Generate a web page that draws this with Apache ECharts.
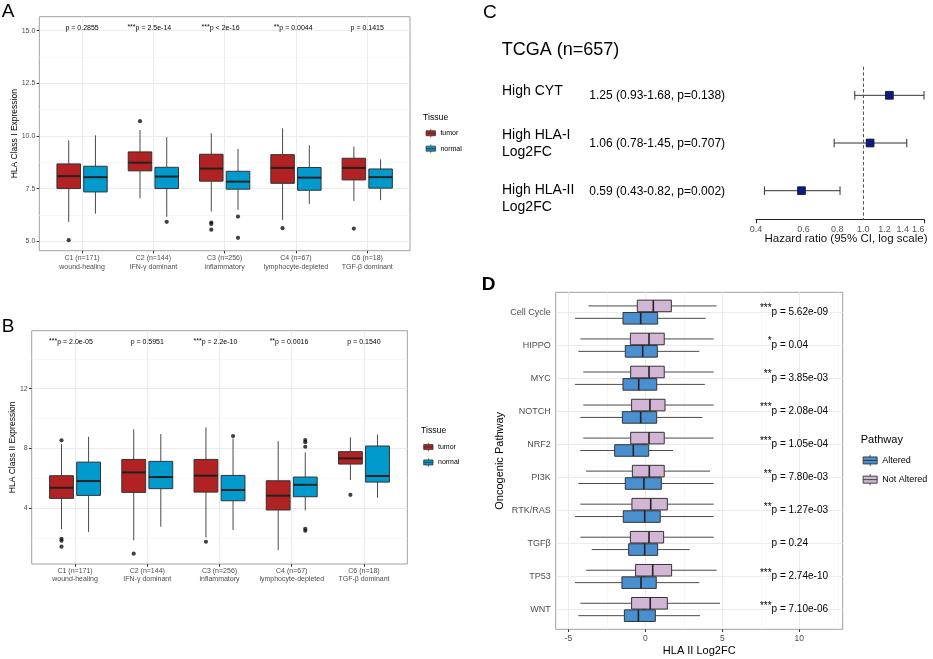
<!DOCTYPE html>
<html><head><meta charset="utf-8">
<script src="https://cdn.jsdelivr.net/npm/echarts@6.0.0/dist/echarts.min.js"></script>
<style>html,body{margin:0;padding:0;background:#fff}#c{width:933px;height:659px}</style>
</head><body><div id="c"></div>
<script>
// ================= DATA =================
// Panels A/B: immune subtypes
const clusters = ['C1 (n=171)', 'C2 (n=144)', 'C3 (n=256)', 'C4 (n=67)', 'C6 (n=18)'];
const subtypes = ['wound-healing', 'IFN-γ dominant', 'inflammatory', 'lymphocyte-depleted', 'TGF-β dominant'];
const tissues = ['tumor', 'normal'];
// box stats: [lower whisker, Q1, median, Q3, upper whisker]
const hla1Tumor  = [[5.92, 7.50, 8.09, 8.67, 9.79], [7.04, 8.34, 8.73, 9.24, 10.28], [6.41, 7.85, 8.45, 9.13, 10.13], [6.01, 7.75, 8.48, 9.11, 10.36], [6.91, 7.91, 8.48, 8.94, 9.49]];
const hla1Normal = [[6.31, 7.34, 8.04, 8.56, 10.03], [6.16, 7.50, 8.07, 8.51, 9.94], [6.49, 7.47, 7.83, 8.32, 9.38], [6.77, 7.42, 8.02, 8.50, 9.56], [6.95, 7.52, 8.04, 8.43, 8.89]];
const hla1TumorOut  = [[1, 5.05], [2, 10.70], [3, 5.89], [3, 5.82], [3, 5.55], [4, 5.62], [5, 5.60]];
const hla1NormalOut = [[2, 5.92], [3, 6.17], [3, 5.16]];
const hla1Stars = ['', '***', '***', '**', ''];
const hla1P = ['p = 0.2855', 'p = 2.5e-14', 'p < 2e-16', 'p = 0.0044', 'p = 0.1415'];
const hla1Ticks = [5, 7.5, 10, 12.5, 15];

const hla2Tumor  = [[2.59, 4.65, 5.36, 6.17, 8.29], [1.83, 5.05, 6.39, 7.26, 9.27], [2.03, 5.07, 6.17, 7.26, 9.41], [1.18, 3.87, 4.83, 5.83, 8.49], [5.88, 6.95, 7.33, 7.78, 8.74]];
const hla2Normal = [[2.39, 4.85, 5.81, 7.08, 8.78], [2.75, 5.30, 6.08, 7.13, 8.96], [2.53, 4.49, 5.21, 6.19, 8.67], [3.84, 4.76, 5.56, 6.08, 7.73], [4.69, 5.74, 6.15, 8.16, 8.92]];
const hla2TumorOut  = [[1, 8.54], [1, 1.94], [1, 1.81], [1, 1.41], [2, 0.94], [3, 1.74], [5, 4.89]];
const hla2NormalOut = [[3, 8.83], [4, 8.56], [4, 8.42], [4, 8.11], [4, 2.61], [4, 2.48]];
const hla2Stars = ['***', '', '***', '**', ''];
const hla2P = ['p = 2.0e-05', 'p = 0.5951', 'p = 2.2e-10', 'p = 0.0016', 'p = 0.1540'];
const hla2Ticks = [4, 8, 12];

// Panel C: forest plot
const forestTitle = 'TCGA (n=657)';
const forestLabels = ['High CYT', 'High HLA-I\nLog2FC', 'High HLA-II\nLog2FC'];
const forestHR   = [1.25, 1.06, 0.59];
const forestLow  = [0.93, 0.78, 0.43];
const forestHigh = [1.68, 1.45, 0.82];
const forestP    = ['0.138', '0.707', '0.002'];
const forestTicks = [0.4, 0.6, 0.8, 1.0, 1.2, 1.4, 1.6];

// Panel D: oncogenic pathways
const pathways = ['Cell Cycle', 'HIPPO', 'MYC', 'NOTCH', 'NRF2', 'PI3K', 'RTK/RAS', 'TGFβ', 'TP53', 'WNT'];
const pathwayGroups = ['Altered', 'Not Altered'];
const altered = [[-4.57, -1.45, -0.30, 0.80, 3.92], [-4.35, -1.30, -0.17, 0.78, 3.51], [-4.57, -1.45, -0.43, 0.74, 3.87], [-4.22, -1.49, -0.30, 0.74, 3.70], [-4.22, -1.99, -0.78, 0.22, 1.80],
                 [-4.35, -1.30, -0.09, 1.04, 4.44], [-4.57, -1.43, -0.04, 0.97, 4.44], [-3.48, -1.08, -0.04, 0.80, 2.88], [-4.57, -1.52, -0.28, 0.71, 3.51], [-4.35, -1.36, -0.45, 0.65, 3.55]];
const notAltered = [[-3.70, -0.52, 0.52, 1.69, 4.63], [-4.22, -0.97, 0.24, 1.23, 4.44], [-4.03, -0.95, 0.24, 1.23, 4.44], [-4.03, -0.89, 0.30, 1.28, 4.44], [-4.03, -0.95, 0.24, 1.23, 4.44],
                    [-3.85, -0.84, 0.26, 1.23, 4.20], [-4.22, -0.87, 0.35, 1.43, 4.44], [-4.22, -0.97, 0.24, 1.19, 4.44], [-3.85, -0.63, 0.48, 1.71, 4.63], [-4.22, -0.89, 0.32, 1.43, 4.85]];
const pathwayStars = ['***', '*', '**', '***', '***', '**', '**', '', '***', '***'];
const pathwayP = ['p = 5.62e-09', 'p = 0.04', 'p = 3.85e-03', 'p = 2.08e-04', 'p = 1.05e-04', 'p = 7.80e-03', 'p = 1.27e-03', 'p = 0.24', 'p = 2.74e-10', 'p = 7.10e-06'];
const pathwayTicks = [-5, 0, 5, 10];

// ================= STYLE / LAYOUT =================
const FONT = '"Liberation Sans", Arial, Helvetica, sans-serif';
const TUMOR = '#B22222', NORMAL = '#009ACD';
const ALT = '#4A90D0', NOTALT = '#D3B6D6';
const BOX_LINE = '#333333', WHISKER = '#4a4a4a';
const TICK_TXT = '#4d4d4d';
const GRID_MAJOR = '#ebebeb', GRID_MINOR = '#f3f3f3';
const BORDER = '#a0a0a0';
const DODGE = 0.1875, BOXW = 0.33;

const mctx = document.createElement('canvas').getContext('2d');
function textWidth(t, size) { mctx.font = size + 'px ' + FONT; return mctx.measureText(t).width; }

function vBox(offset) {
  return function (params, api) {
    const x = api.value(0) + offset;
    const lo = api.coord([x, api.value(1)]), q1 = api.coord([x, api.value(2)]), md = api.coord([x, api.value(3)]);
    const q3 = api.coord([x, api.value(4)]), hi = api.coord([x, api.value(5)]);
    const w = api.size([BOXW, 0])[0];
    return { type: 'group', children: [
      { type: 'line', shape: { x1: lo[0], y1: lo[1], x2: q1[0], y2: q1[1] }, style: { stroke: WHISKER, lineWidth: 1 } },
      { type: 'line', shape: { x1: q3[0], y1: q3[1], x2: hi[0], y2: hi[1] }, style: { stroke: WHISKER, lineWidth: 1 } },
      { type: 'rect', shape: { x: q1[0] - w / 2, y: q3[1], width: w, height: q1[1] - q3[1] }, style: { fill: api.visual('color'), stroke: BOX_LINE, lineWidth: 1 } },
      { type: 'line', shape: { x1: md[0] - w / 2, y1: md[1], x2: md[0] + w / 2, y2: md[1] }, style: { stroke: '#222', lineWidth: 2 } }
    ] };
  };
}
function hBox(offset) {
  return function (params, api) {
    const y = api.value(0) + offset;
    const lo = api.coord([api.value(1), y]), q1 = api.coord([api.value(2), y]), md = api.coord([api.value(3), y]);
    const q3 = api.coord([api.value(4), y]), hi = api.coord([api.value(5), y]);
    const h = api.size([0, 0.35])[1];
    return { type: 'group', children: [
      { type: 'line', shape: { x1: lo[0], y1: lo[1], x2: q1[0], y2: q1[1] }, style: { stroke: WHISKER, lineWidth: 1 } },
      { type: 'line', shape: { x1: q3[0], y1: q3[1], x2: hi[0], y2: hi[1] }, style: { stroke: WHISKER, lineWidth: 1 } },
      { type: 'rect', shape: { x: q1[0], y: q1[1] - h / 2, width: q3[0] - q1[0], height: h }, style: { fill: api.visual('color'), stroke: BOX_LINE, lineWidth: 1 } },
      { type: 'line', shape: { x1: md[0], y1: md[1] - h / 2, x2: md[0], y2: md[1] + h / 2 }, style: { stroke: '#222', lineWidth: 1.6 } }
    ] };
  };
}
function pLabelCentered(stars, ptext, size, raise) {
  return function (params, api) {
    const i = params.dataIndex;
    const p = api.coord([api.value(0), api.value(1)]);
    const w = textWidth(ptext[i], size);
    const ch = [{ type: 'text', x: p[0], y: p[1], style: { text: ptext[i], fontSize: size, fontFamily: FONT, fill: '#000', align: 'center', verticalAlign: 'middle' } }];
    if (stars[i]) ch.push({ type: 'text', x: p[0] - w / 2, y: p[1] - raise, style: { text: stars[i], fontSize: size, fontFamily: FONT, fill: '#000', align: 'right', verticalAlign: 'middle' } });
    return { type: 'group', children: ch };
  };
}
function pLabelLeft(stars, ptext, size, raise) {
  return function (params, api) {
    const i = params.dataIndex;
    const p = api.coord([api.value(0), api.value(1)]);
    const ch = [{ type: 'text', x: p[0], y: p[1], style: { text: ptext[i], fontSize: size, fontFamily: FONT, fill: '#000', align: 'left', verticalAlign: 'middle' } }];
    if (stars[i]) ch.push({ type: 'text', x: p[0], y: p[1] - raise, style: { text: stars[i], fontSize: size, fontFamily: FONT, fill: '#000', align: 'right', verticalAlign: 'middle' } });
    return { type: 'group', children: ch };
  };
}
function keyIcon(w, h, bh) {
  const y0 = (h - bh) / 2, y1 = y0 + bh, m = h / 2, cx = w / 2;
  return 'path://M0,' + y0 + 'L' + w + ',' + y0 + 'L' + w + ',' + y1 + 'L0,' + y1 + 'Z M0,' + m + 'L' + w + ',' + m +
         ' M' + cx + ',0L' + cx + ',' + y0 + ' M' + cx + ',' + y1 + 'L' + cx + ',' + h;
}

const catPos = clusters.map((_, i) => i + 1);
const pathPos = pathways.map((_, i) => i + 1);
const catLabel = v => { const i = Math.round(v) - 1; return clusters[i] + '\n' + subtypes[i]; };

function catXAxis(gridIndex, lineH) {
  return { gridIndex, type: 'value', min: 0.4, max: 5.6,
    axisLine: { show: false },
    axisTick: { show: true, length: 2.7, customValues: catPos, lineStyle: { color: '#333' } },
    axisLabel: { customValues: catPos, formatter: catLabel, fontSize: 7, color: TICK_TXT, lineHeight: lineH, margin: 3.5, fontFamily: FONT },
    splitLine: { show: true, lineStyle: { color: GRID_MAJOR, width: 1 } } };
}
function valYAxis(gridIndex, min, max, ticks, fmt, name, nameGap) {
  return { gridIndex, type: 'value', min, max,
    axisLine: { show: false },
    axisTick: { show: true, length: 2.7, customValues: ticks, lineStyle: { color: '#333' } },
    axisLabel: { customValues: ticks, formatter: fmt, fontSize: 7, color: TICK_TXT, margin: 4, fontFamily: FONT },
    splitLine: { show: true, lineStyle: { color: GRID_MAJOR, width: 1 } },
    name, nameLocation: 'middle', nameGap, nameMoveOverlap: false,
    nameTextStyle: { fontSize: 8.5, color: '#000', fontFamily: FONT } };
}
function minorAxis(gridIndex, min, max, vals, extra) {
  return Object.assign({ gridIndex, type: 'value', min, max,
    axisLine: { show: false }, axisTick: { show: false, customValues: vals }, axisLabel: { show: false },
    splitLine: { show: true, lineStyle: { color: GRID_MINOR, width: 0.7 } } }, extra || {});
}

const gridBase = { show: true, borderColor: BORDER, borderWidth: 1, backgroundColor: 'transparent', outerBoundsMode: 'none', containLabel: false };
const lnMin = Math.log(forestTicks[0]), lnMax = Math.log(Math.max(...forestHigh));

const option = {
  animation: false,
  backgroundColor: '#fff',
  textStyle: { fontFamily: FONT },
  grid: [
    Object.assign({ left: 39.3, top: 16.7, width: 370.7, height: 234 }, gridBase),
    Object.assign({ left: 31.7, top: 330.7, width: 375.6, height: 233.3 }, gridBase),
    { left: 756, top: 66.7, width: 168, height: 152.6, show: false, outerBoundsMode: 'none', containLabel: false },
    { left: 500, top: 66.7, width: 250, height: 152.6, show: false, outerBoundsMode: 'none', containLabel: false },
    Object.assign({ left: 555.7, top: 292.3, width: 287, height: 337 }, gridBase)
  ],
  xAxis: [
    catXAxis(0, 8.6),
    catXAxis(1, 8),
    { gridIndex: 2, type: 'value', min: lnMin, max: lnMax, position: 'bottom',
      axisLine: { show: true, lineStyle: { color: '#222', width: 1 } },
      axisTick: { show: true, length: 4, customValues: [lnMin, lnMax], lineStyle: { color: '#222' } },
      axisLabel: { customValues: forestTicks.map(t => Math.log(t)), formatter: v => Math.exp(v).toFixed(1), fontSize: 9, color: '#555', margin: 6, fontFamily: FONT },
      splitLine: { show: false },
      name: 'Hazard ratio (95% CI, log scale)', nameLocation: 'middle', nameGap: 13.5, nameMoveOverlap: false,
      nameTextStyle: { fontSize: 11.5, color: '#111', fontFamily: FONT, padding: [0, 0, 0, 12] } },
    { gridIndex: 3, type: 'value', min: 0, max: 250, show: false },
    { gridIndex: 4, type: 'value', min: -5.82, max: 12.82,
      axisLine: { show: false },
      axisTick: { show: true, length: 2.7, customValues: pathwayTicks, lineStyle: { color: '#333' } },
      axisLabel: { customValues: pathwayTicks, fontSize: 8.5, color: TICK_TXT, margin: 5, fontFamily: FONT },
      splitLine: { show: true, lineStyle: { color: GRID_MAJOR, width: 1 } },
      name: 'HLA II Log2FC', nameLocation: 'middle', nameGap: 16, nameMoveOverlap: false,
      nameTextStyle: { fontSize: 11, color: '#000', fontFamily: FONT } },
    minorAxis(4, -5.82, 12.82, [-2.5, 2.5, 7.5, 12.5], { position: 'bottom' })
  ],
  yAxis: [
    valYAxis(0, 4.55, 15.66, hla1Ticks, v => v.toFixed(1), 'HLA Class I Expression', 20.5),
    minorAxis(0, 4.55, 15.66, [6.25, 8.75, 11.25, 13.75], { position: 'left' }),
    valYAxis(1, 0.25, 15.89, hla2Ticks, v => String(v), 'HLA Class II Expression', 15),
    minorAxis(1, 0.25, 15.89, [2, 6, 10, 14], { position: 'left' }),
    { gridIndex: 2, type: 'value', min: 0.4, max: 3.6, inverse: true, show: false },
    { gridIndex: 3, type: 'value', min: 0.4, max: 3.6, inverse: true, show: false },
    { gridIndex: 4, type: 'value', min: 0.4, max: 10.6, inverse: true,
      axisLine: { show: false },
      axisTick: { show: true, length: 2.7, customValues: pathPos, lineStyle: { color: '#333' } },
      axisLabel: { customValues: pathPos, formatter: v => pathways[Math.round(v) - 1], fontSize: 9, color: TICK_TXT, margin: 5, fontFamily: FONT },
      splitLine: { show: true, lineStyle: { color: GRID_MAJOR, width: 1 } },
      name: 'Oncogenic Pathway', nameLocation: 'middle', nameGap: 50, nameMoveOverlap: false,
      nameTextStyle: { fontSize: 11, color: '#000', fontFamily: FONT } }
  ],
  legend: [
    { orient: 'vertical', left: 425.7, top: 128.7, padding: 0, itemWidth: 9.3, itemHeight: 8.3, itemGap: 6.3, selectedMode: false,
      data: tissues.map(n => ({ name: n, icon: keyIcon(9.3, 8.3, 5) })),
      itemStyle: { borderColor: '#333', borderWidth: 0.8 }, textStyle: { fontSize: 7, color: '#000', fontFamily: FONT } },
    { orient: 'vertical', left: 423.3, top: 442.5, padding: 0, itemWidth: 9.3, itemHeight: 8.3, itemGap: 6.3, selectedMode: false,
      data: tissues.map(n => ({ name: n, icon: keyIcon(9.3, 8.3, 5) })),
      itemStyle: { borderColor: '#333', borderWidth: 0.8 }, textStyle: { fontSize: 7, color: '#000', fontFamily: FONT } },
    { orient: 'vertical', left: 862.7, top: 454.5, padding: 0, itemWidth: 14, itemHeight: 11, itemGap: 7.3, selectedMode: false,
      data: pathwayGroups.map(n => ({ name: n, icon: keyIcon(14, 11, 7) })),
      itemStyle: { borderColor: '#333', borderWidth: 0.9 }, textStyle: { fontSize: 9, color: '#000', fontFamily: FONT } }
  ],
  graphic: [
    { type: 'text', x: 1.7, y: 11.7, style: { text: 'A', fontSize: 19, fontFamily: FONT, fill: '#000', align: 'left', verticalAlign: 'middle' } },
    { type: 'text', x: 1.7, y: 326.7, style: { text: 'B', fontSize: 19, fontFamily: FONT, fill: '#000', align: 'left', verticalAlign: 'middle' } },
    { type: 'text', x: 483, y: 12.5, style: { text: 'C', fontSize: 19, fontFamily: FONT, fill: '#000', align: 'left', verticalAlign: 'middle' } },
    { type: 'text', x: 481.7, y: 285, style: { text: 'D', fontSize: 19, fontWeight: 'bold', fontFamily: FONT, fill: '#000', align: 'left', verticalAlign: 'middle' } },
    { type: 'text', x: 501.7, y: 50, style: { text: forestTitle, fontSize: 18, fontFamily: FONT, fill: '#000', align: 'left', verticalAlign: 'middle' } },
    { type: 'text', x: 423, y: 117.3, style: { text: 'Tissue', fontSize: 8.7, fontFamily: FONT, fill: '#000', align: 'left', verticalAlign: 'middle' } },
    { type: 'text', x: 421, y: 430.7, style: { text: 'Tissue', fontSize: 8.7, fontFamily: FONT, fill: '#000', align: 'left', verticalAlign: 'middle' } },
    { type: 'text', x: 860.7, y: 440.3, style: { text: 'Pathway', fontSize: 11, fontFamily: FONT, fill: '#000', align: 'left', verticalAlign: 'middle' } }
  ],
  series: []
};

// ---- Panel A & B boxes ----
function addBoxPanel(xi, yi, tumor, normal, tOut, nOut, stars, ptxt, labelY) {
  option.series.push(
    { type: 'custom', name: 'tumor', xAxisIndex: xi, yAxisIndex: yi, itemStyle: { color: TUMOR, borderColor: BOX_LINE, borderWidth: 1 },
      renderItem: vBox(-DODGE), encode: { x: 0, y: [1, 2, 3, 4, 5] }, data: tumor.map((s, i) => [i + 1].concat(s)), z: 3 },
    { type: 'custom', name: 'normal', xAxisIndex: xi, yAxisIndex: yi, itemStyle: { color: NORMAL, borderColor: BOX_LINE, borderWidth: 1 },
      renderItem: vBox(DODGE), encode: { x: 0, y: [1, 2, 3, 4, 5] }, data: normal.map((s, i) => [i + 1].concat(s)), z: 3 },
    { type: 'scatter', name: 'tumor outliers', xAxisIndex: xi, yAxisIndex: yi, symbolSize: 4.2, itemStyle: { color: '#111' },
      data: tOut.map(d => [d[0] - DODGE, d[1]]), z: 4 },
    { type: 'scatter', name: 'normal outliers', xAxisIndex: xi, yAxisIndex: yi, symbolSize: 4.2, itemStyle: { color: '#111' },
      data: nOut.map(d => [d[0] + DODGE, d[1]]), z: 4 },
    { type: 'custom', name: 'p values', xAxisIndex: xi, yAxisIndex: yi, renderItem: pLabelCentered(stars, ptxt, 7, 0.8),
      data: ptxt.map((_, i) => [i + 1, labelY]), z: 5 }
  );
}
addBoxPanel(0, 0, hla1Tumor, hla1Normal, hla1TumorOut, hla1NormalOut, hla1Stars, hla1P, 15.11);
addBoxPanel(1, 2, hla2Tumor, hla2Normal, hla2TumorOut, hla2NormalOut, hla2Stars, hla2P, 15.15);

// ---- Panel C forest ----
option.series.push(
  { type: 'custom', name: 'CI', xAxisIndex: 2, yAxisIndex: 4, z: 3,
    data: forestHR.map((_, i) => [Math.log(forestLow[i]), Math.log(forestHigh[i]), i + 1]),
    renderItem: function (params, api) {
      const a = api.coord([api.value(0), api.value(2)]), b = api.coord([api.value(1), api.value(2)]);
      const c = 4.3;
      return { type: 'group', children: [
        { type: 'line', shape: { x1: a[0], y1: a[1], x2: b[0], y2: b[1] }, style: { stroke: '#333', lineWidth: 1 } },
        { type: 'line', shape: { x1: a[0], y1: a[1] - c, x2: a[0], y2: a[1] + c }, style: { stroke: '#333', lineWidth: 1 } },
        { type: 'line', shape: { x1: b[0], y1: b[1] - c, x2: b[0], y2: b[1] + c }, style: { stroke: '#333', lineWidth: 1 } }
      ] };
    } },
  { type: 'scatter', name: 'HR', xAxisIndex: 2, yAxisIndex: 4, symbol: 'rect', symbolSize: 7.8, z: 4,
    itemStyle: { color: '#0c1a8a', borderColor: '#111', borderWidth: 0.8, opacity: 1 },
    data: forestHR.map((h, i) => [Math.log(h), i + 1]),
    markLine: { silent: true, symbol: ['none', 'none'], label: { show: false },
      lineStyle: { type: [3.4, 2.2], color: '#555', width: 1 }, data: [{ xAxis: Math.log(1) }] } },
  { type: 'custom', name: 'forest table', xAxisIndex: 3, yAxisIndex: 5, z: 3,
    data: forestHR.map((_, i) => [i + 1]),
    encode: { y: 0 },
    renderItem: function (params, api) {
      const i = params.dataIndex;
      const nudge = [-4.3, 0.7, 7.8][i];
      const pL = api.coord([2, api.value(0)]);
      const pE = api.coord([89.3, api.value(0)]);
      const est = forestHR[i].toFixed(2) + ' (' + forestLow[i].toFixed(2) + '-' + forestHigh[i].toFixed(2) + ', p=' + forestP[i] + ')';
      return { type: 'group', children: [
        { type: 'text', x: pL[0], y: pL[1] + nudge, style: { text: forestLabels[i], fontSize: 14, lineHeight: 17, fontFamily: FONT, fill: '#000', align: 'left', verticalAlign: 'middle' } },
        { type: 'text', x: pE[0], y: pE[1] + 0.7, style: { text: est, fontSize: 12, fontFamily: FONT, fill: '#000', align: 'left', verticalAlign: 'middle' } }
      ] };
    } }
);

// ---- Panel D ----
option.series.push(
  { type: 'custom', name: 'Altered', xAxisIndex: 4, yAxisIndex: 6, itemStyle: { color: ALT, borderColor: BOX_LINE, borderWidth: 1 }, z: 3,
    renderItem: hBox(DODGE), encode: { y: 0, x: [1, 2, 3, 4, 5] }, data: altered.map((s, i) => [i + 1].concat(s)) },
  { type: 'custom', name: 'Not Altered', xAxisIndex: 4, yAxisIndex: 6, itemStyle: { color: NOTALT, borderColor: BOX_LINE, borderWidth: 1 }, z: 3,
    renderItem: hBox(-DODGE), encode: { y: 0, x: [1, 2, 3, 4, 5] }, data: notAltered.map((s, i) => [i + 1].concat(s)) },
  { type: 'custom', name: 'pathway p', xAxisIndex: 4, yAxisIndex: 6, z: 5,
    renderItem: pLabelLeft(pathwayStars, pathwayP, 10, 3.5), data: pathways.map((_, i) => [8.2, i + 1]) }
);

const chart = echarts.init(document.getElementById('c'), null, { renderer: 'canvas' });
chart.setOption(option);
</script></body></html>
